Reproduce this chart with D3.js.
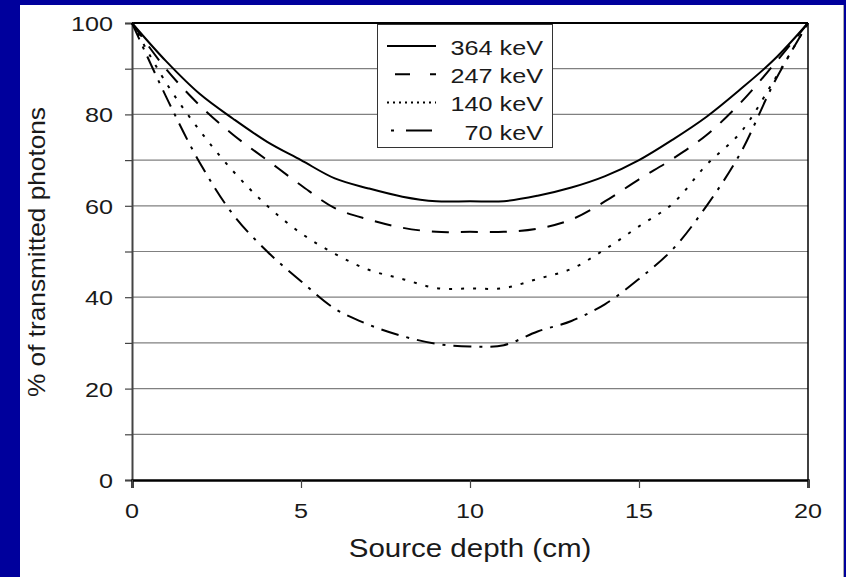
<!DOCTYPE html>
<html>
<head>
<meta charset="utf-8">
<script src="https://cdn.jsdelivr.net/npm/d3@7"></script>
<style>
  html, body { margin: 0; padding: 0; background: #00009c; }
  svg { display: block; }
  text { font-family: "Liberation Sans", Arial, sans-serif; fill: #1a1a1a; }
</style>
</head>
<body>
<svg id="chart" width="846" height="577"></svg>
<script>
// source depth (cm)
const depth = [0, 1, 2, 3, 4, 5, 6, 7, 8, 9, 10, 11, 12, 13, 14, 15, 16, 17, 18, 19, 20]

// % of transmitted photons
const kev364 = [100, 91.7, 84.5, 79, 74, 70, 66, 63.8, 62, 61, 61, 61, 62.2, 64, 66.5, 70, 74.5, 79.5, 85.5, 92, 100]
const kev247 = [100, 90, 82, 75.5, 70, 64.5, 59.5, 57, 55.2, 54.3, 54.3, 54.3, 55, 57, 61, 65.8, 70.3, 75.5, 82.5, 91, 100]
const kev140 = [100, 87, 76.5, 67.5, 60, 54, 49.5, 46, 44, 42, 41.9, 42, 44, 46.2, 50.5, 55.5, 60.5, 69, 76, 87.5, 100]
const kev70  = [100, 84, 69.5, 58, 50, 43.5, 37.5, 34, 31.5, 29.8, 29.2, 29.5, 32.5, 34.8, 38.5, 44, 50.5, 60, 71.5, 87, 100]

const seriesNames = ["364 keV", "247 keV", "140 keV", "70 keV"]
const xTicks = [0, 5, 10, 15, 20]
const yTicks = [0, 20, 40, 60, 80, 100]

const series = [
  { name: seriesNames[0], values: kev364, dash: null },
  { name: seriesNames[1], values: kev247, dash: "17,12" },
  { name: seriesNames[2], values: kev140, dash: "3,9" },
  { name: seriesNames[3], values: kev70, dash: "18,8,3,8" }
]

const svg = d3.select("#chart")

// white slide panel on blue background
svg.append("rect").attr("x", 20).attr("y", 5).attr("width", 823).attr("height", 572).attr("fill", "#fff")
svg.append("line").attr("x1", 843.5).attr("x2", 843.5).attr("y1", 5).attr("y2", 577)
  .attr("stroke", "#aaa").attr("stroke-width", 1)

const L = 132, R = 808, T = 23, B = 480
const x = d3.scaleLinear().domain([0, 20]).range([L, R])
const y = d3.scaleLinear().domain([0, 100]).range([B, T])

// stretched text, the original font renders wide
function label(g, str, px, py, size, anchor, sx, rot = 0) {
  return g.append("text")
    .attr("transform", `translate(${px},${py}) rotate(${rot}) scale(${sx},1)`)
    .attr("text-anchor", anchor)
    .style("font-size", size + "px")
    .text(str)
}

// gridlines every 10
const grid = svg.append("g")
d3.range(10, 100, 10).forEach((v) => {
  grid.append("line").attr("x1", L).attr("x2", R).attr("y1", y(v)).attr("y2", y(v))
    .attr("stroke", "#808080").attr("stroke-width", 1.2)
})

// frame
svg.append("line").attr("x1", L).attr("x2", R).attr("y1", T).attr("y2", T).attr("stroke", "#000").attr("stroke-width", 2)
svg.append("line").attr("x1", R).attr("x2", R).attr("y1", T).attr("y2", B).attr("stroke", "#000").attr("stroke-width", 1.5)

// y axis
const yAxis = svg.append("g").attr("transform", `translate(${L},0)`)
  .call(d3.axisLeft(y).tickValues(d3.range(0, 101, 10)).tickSize(7).tickFormat(""))
yAxis.select(".domain").attr("stroke", "#444").attr("stroke-width", 2)
yAxis.selectAll(".tick line").attr("stroke", "#444").attr("stroke-width", 1.2)
yTicks.forEach((v) => label(svg, String(v), 113, y(v) + 8, 21, "end", 1.2))

// x axis
const xAxis = svg.append("g").attr("transform", `translate(0,${B})`)
  .call(d3.axisBottom(x).tickValues(xTicks).tickSize(8).tickFormat(""))
xAxis.select(".domain").attr("stroke", "#000").attr("stroke-width", 2.5)
xAxis.selectAll(".tick line").attr("stroke", "#444").attr("stroke-width", 1.2)
xTicks.forEach((v) => label(svg, String(v), x(v), 518, 21, "middle", 1.2))

// axis titles
label(svg, "Source depth (cm)", (L + R) / 2, 557, 25, "middle", 1.18)
label(svg, "% of transmitted photons", 45, 252, 23, "middle", 1.14, -90)

// curves
const line = d3.line()
  .x((d, i) => x(depth[i]))
  .y((d) => y(d))
  .curve(d3.curveCatmullRom.alpha(0.5))

svg.append("g").selectAll("path")
  .data(series)
  .enter().append("path")
  .attr("d", (d) => line(d.values))
  .attr("fill", "none")
  .attr("stroke", "#000")
  .attr("stroke-width", 2)
  .attr("stroke-dasharray", (d) => d.dash)

// legend
const lg = svg.append("g")
lg.append("rect").attr("x", 377.5).attr("y", 24.5).attr("width", 175).attr("height", 123)
  .attr("fill", "#fff").attr("stroke", "#333").attr("stroke-width", 1)
series.forEach((s, i) => {
  const ly = 46 + i * 28.2
  lg.append("line").attr("x1", 387).attr("x2", 436).attr("y1", ly).attr("y2", ly)
    .attr("stroke", "#000").attr("stroke-width", 2)
    .attr("stroke-dasharray", s.dash ? (i === 1 ? "0,8,15,12" : i === 3 ? "3,12,26,10" : "2,4") : null)
    .attr("stroke-dashoffset", i === 3 ? -4 : 0)
  label(lg, s.name, 543, ly + 9, 21, "end", 1.2)
})
</script>
</body>
</html>
